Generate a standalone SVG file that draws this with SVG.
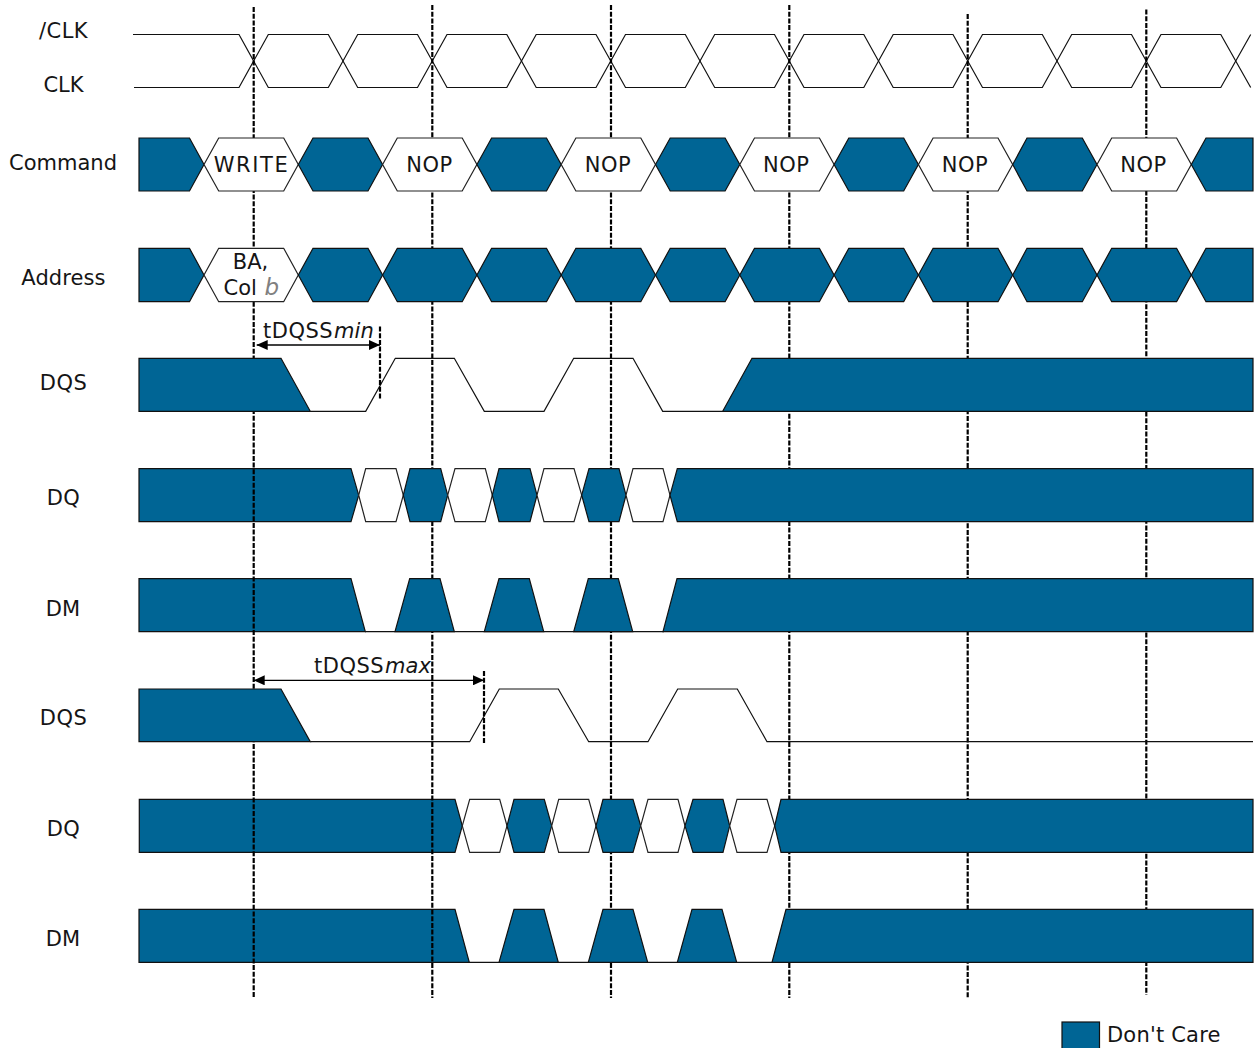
<svg xmlns="http://www.w3.org/2000/svg" width="1257" height="1048" viewBox="0 0 1257 1048">
<style>
text{font-family:"DejaVu Sans","Liberation Sans",sans-serif;font-size:21px;fill:#151515}
.c{text-anchor:middle}
.i{font-style:italic}
.t{letter-spacing:.5px}
.g{fill:#808080;font-style:italic;font-size:23px}
.b{fill:#006595;stroke:#111;stroke-width:1.2;stroke-linejoin:miter}
.w{fill:#fff;stroke:#222;stroke-width:1.2}
.l{fill:none;stroke:#111;stroke-width:1.2}
.d{fill:none;stroke:#000;stroke-width:2.2;stroke-dasharray:5 1.7}
.a{fill:none;stroke:#000;stroke-width:1.3;marker-start:url(#ah);marker-end:url(#ah)}
</style>
<defs>
<marker id="ah" viewBox="0 0 11 10" refX="11" refY="5" markerUnits="userSpaceOnUse" markerWidth="11" markerHeight="10" orient="auto-start-reverse"><path d="M0 0L11 5L0 10Z" fill="#000"/></marker>
</defs>

<g id="clocks">
<polyline class="l" points="133,34.5 239,34.5 268.3,87.5 328.3,87.5 357.7,34.5 417.5,34.5 447,87.5 506.8,87.5 536.2,34.5 596,34.5 625.5,87.5 685.3,87.5 714.7,34.5 774.5,34.5 804,87.5 863.8,87.5 893.2,34.5 953,34.5 982.5,87.5 1042.3,87.5 1071.7,34.5 1131.5,34.5 1161,87.5 1220.8,87.5 1250.7,34.5"/>
<polyline class="l" points="134,87.5 239,87.5 268.3,34.5 328.3,34.5 357.7,87.5 417.5,87.5 447,34.5 506.8,34.5 536.2,87.5 596,87.5 625.5,34.5 685.3,34.5 714.7,87.5 774.5,87.5 804,34.5 863.8,34.5 893.2,87.5 953,87.5 982.5,34.5 1042.3,34.5 1071.7,87.5 1131.5,87.5 1161,34.5 1220.8,34.5 1250.7,87.5"/>
</g>

<g id="guides-late">
<line class="d" x1="611" y1="5" x2="611" y2="998"/>
<line class="d" x1="789.3" y1="5" x2="789.3" y2="998"/>
<line class="d" x1="967.7" y1="14" x2="967.7" y2="998"/>
<line class="d" x1="1146.3" y1="9.5" x2="1146.3" y2="995"/>
</g>

<g id="dq2">
<path class="b" d="M139.3 799.3H455L462.3 825.8L455 852.3H139.3Z"/>
<path class="w" d="M462.3 825.8L469.7 799.3H499.7L507 825.8L499.7 852.3H469.7Z"/>
<path class="b" d="M507 825.8L514 799.3H544.3L551.7 825.8L544.3 852.3H514Z"/>
<path class="w" d="M551.7 825.8L558.7 799.3H588.7L596 825.8L588.7 852.3H558.7Z"/>
<path class="b" d="M596 825.8L603 799.3H633L640.7 825.8L633 852.3H603Z"/>
<path class="w" d="M640.7 825.8L648 799.3H678L685 825.8L678 852.3H648Z"/>
<path class="b" d="M685 825.8L693 799.3H723L729.7 825.8L723 852.3H693Z"/>
<path class="w" d="M729.7 825.8L737 799.3H767L774.7 825.8L767 852.3H737Z"/>
<path class="b" d="M774.7 825.8L781 799.3H1253V852.3H781Z"/>
</g>

<g id="dm2">
<line class="l" x1="469" y1="962.3" x2="773" y2="962.3"/>
<path class="b" d="M139 909.3H455L469.3 962.3H139Z"/>
<path class="b" d="M499 962.3L514 909.3H544L558.3 962.3Z"/>
<path class="b" d="M588.3 962.3L603 909.3H633L647.7 962.3Z"/>
<path class="b" d="M677.3 962.3L692 909.3H722L736.7 962.3Z"/>
<path class="b" d="M772 962.3L786 909.3H1253V962.3Z"/>
</g>

<g id="guide-2">
<line class="d" x1="432.3" y1="5" x2="432.3" y2="998"/>
</g>

<g id="dq1">
<path class="b" d="M139 468.7H351L358.7 495.2L351 521.7H139Z"/>
<path class="w" d="M358.7 495.2L365.7 468.7H396L403.3 495.2L396 521.7H365.7Z"/>
<path class="b" d="M403.3 495.2L410 468.7H440.7L447.7 495.2L440.7 521.7H410Z"/>
<path class="w" d="M447.7 495.2L455 468.7H485.3L492.3 495.2L485.3 521.7H455Z"/>
<path class="b" d="M492.3 495.2L499 468.7H530L537 495.2L530 521.7H499Z"/>
<path class="w" d="M537 495.2L544 468.7H574L581.7 495.2L574 521.7H544Z"/>
<path class="b" d="M581.7 495.2L589 468.7H619L626 495.2L619 521.7H589Z"/>
<path class="w" d="M626 495.2L633 468.7H663L670 495.2L663 521.7H633Z"/>
<path class="b" d="M670 495.2L677.3 468.7H1253V521.7H677.3Z"/>
</g>

<g id="dm1">
<line class="l" x1="365" y1="631.7" x2="664" y2="631.7"/>
<path class="b" d="M139 578.7H351L365.3 631.7H139Z"/>
<path class="b" d="M395 631.7L409.7 578.7H440L454.3 631.7Z"/>
<path class="b" d="M484.3 631.7L499 578.7H529.3L543.7 631.7Z"/>
<path class="b" d="M573.7 631.7L588.3 578.7H618.3L632.7 631.7Z"/>
<path class="b" d="M663 631.7L677 578.7H1253V631.7Z"/>
</g>

<g id="guide-1">
<line class="d" x1="253.7" y1="7" x2="253.7" y2="998"/>
</g>

<g id="command">
<path class="b" d="M139 138H189.5L204 164.5L189.5 191H139Z"/>
<path class="w" d="M204 164.5L218.7 138H283.7L298.3 164.5L283.7 191H218.7Z"/>
<path class="b" d="M298.3 164.5L313 138H368L382.6 164.5L368 191H313Z"/>
<path class="w" d="M382.6 164.5L397.3 138H462.2L476.9 164.5L462.2 191H397.3Z"/>
<path class="b" d="M476.9 164.5L491.6 138H546.5L561.2 164.5L546.5 191H491.6Z"/>
<path class="w" d="M561.2 164.5L575.9 138H640.8L655.5 164.5L640.8 191H575.9Z"/>
<path class="b" d="M655.5 164.5L670.2 138H725.1L739.8 164.5L725.1 191H670.2Z"/>
<path class="w" d="M739.8 164.5L754.5 138H819.4L834.1 164.5L819.4 191H754.5Z"/>
<path class="b" d="M834.1 164.5L848.8 138H903.7L918.4 164.5L903.7 191H848.8Z"/>
<path class="w" d="M918.4 164.5L933.1 138H998L1012.7 164.5L998 191H933.1Z"/>
<path class="b" d="M1012.7 164.5L1027 138H1082.3L1097 164.5L1082.3 191H1027Z"/>
<path class="w" d="M1097 164.5L1111.7 138H1176.6L1191.3 164.5L1176.6 191H1111.7Z"/>
<path class="b" d="M1191.3 164.5L1206 138H1253V191H1206Z"/>
<text class="c" x="251.5" y="172" style="letter-spacing:1.6px">WRITE</text>
<text class="c t" x="429.5" y="172">NOP</text>
<text class="c t" x="608" y="172">NOP</text>
<text class="c t" x="786.3" y="172">NOP</text>
<text class="c t" x="965" y="172">NOP</text>
<text class="c t" x="1143.5" y="172">NOP</text>
</g>

<g id="address">
<path class="b" d="M139 248.3H189.5L204 275L189.5 301.7H139Z"/>
<path class="w" d="M204 275L218.7 248.3H283.7L298.3 275L283.7 301.7H218.7Z"/>
<path class="b" d="M298.3 275L313 248.3H368L382.6 275L368 301.7H313Z"/>
<path class="b" d="M382.6 275L397.3 248.3H462.2L476.9 275L462.2 301.7H397.3Z"/>
<path class="b" d="M476.9 275L491.6 248.3H546.5L561.2 275L546.5 301.7H491.6Z"/>
<path class="b" d="M561.2 275L575.9 248.3H640.8L655.5 275L640.8 301.7H575.9Z"/>
<path class="b" d="M655.5 275L670.2 248.3H725.1L739.8 275L725.1 301.7H670.2Z"/>
<path class="b" d="M739.8 275L754.5 248.3H819.4L834.1 275L819.4 301.7H754.5Z"/>
<path class="b" d="M834.1 275L848.8 248.3H903.7L918.4 275L903.7 301.7H848.8Z"/>
<path class="b" d="M918.4 275L933.1 248.3H998L1012.7 275L998 301.7H933.1Z"/>
<path class="b" d="M1012.7 275L1027 248.3H1082.3L1097 275L1082.3 301.7H1027Z"/>
<path class="b" d="M1097 275L1111.7 248.3H1176.6L1191.3 275L1176.6 301.7H1111.7Z"/>
<path class="b" d="M1191.3 275L1206 248.3H1253V301.7H1206Z"/>
<text class="c" x="250.5" y="269">BA,</text>
<text x="223.5" y="295">Col <tspan class="g" dx="1">b</tspan></text>
</g>

<g id="dqs1">
<polyline class="l" points="310.3,411.3 365.7,411.3 395.3,358.3 454.3,358.3 484.3,411.3 544,411.3 573.7,358.3 633,358.3 662.7,411.3 722.7,411.3"/>
<path class="b" d="M139 358.3H281L310.3 411.3H139Z"/>
<path class="b" d="M722.7 411.3L752 358.3H1253V411.3Z"/>
</g>

<g id="dqs2">
<polyline class="l" points="310.3,741.7 469.7,741.7 499.3,689 558.3,689 588.7,741.7 648,741.7 677.7,689 737.3,689 767,741.7 1253,741.7"/>
<path class="b" d="M139 689H281L310.3 741.7H139Z"/>
</g>

<g id="timing">
<line class="d" x1="380" y1="326.5" x2="380" y2="399.5"/>
<line class="a" x1="256.7" y1="345" x2="380" y2="345"/>
<text x="263" y="338"><tspan class="t">tDQSS</tspan><tspan class="i" dx="1">min</tspan></text>
<line class="d" x1="484" y1="671" x2="484" y2="743"/>
<line class="a" x1="253.7" y1="680.3" x2="484" y2="680.3"/>
<text x="314" y="673"><tspan class="t">tDQSS</tspan><tspan class="i" dx="1">max</tspan></text>
</g>

<g id="labels">
<text class="c t" x="63.5" y="38">/CLK</text>
<text class="c" x="63.5" y="92">CLK</text>
<text class="c" x="63" y="170">Command</text>
<text class="c" x="63.5" y="285" style="letter-spacing:.1px">Address</text>
<text class="c t" x="63.5" y="390">DQS</text>
<text class="c t" x="63.5" y="505">DQ</text>
<text class="c" x="63" y="616">DM</text>
<text class="c t" x="63.5" y="725">DQS</text>
<text class="c t" x="63.5" y="836">DQ</text>
<text class="c" x="63" y="946">DM</text>
</g>

<g id="legend">
<rect class="b" x="1062" y="1022" width="37.5" height="30"/>
<text x="1107" y="1042" style="letter-spacing:.2px">Don't Care</text>
</g>
</svg>
